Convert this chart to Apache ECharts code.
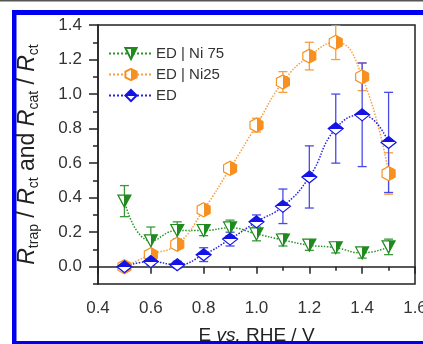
<!DOCTYPE html>
<html>
<head>
<meta charset="utf-8">
<script src="https://cdn.jsdelivr.net/npm/echarts@6/dist/echarts.min.js"></script>
<style>
html,body{margin:0;padding:0;background:#fff;}
#chart{width:423px;height:344px;}
</style>
</head>
<body>
<div id="chart"></div>
<script>
var potential = [0.5, 0.6, 0.7, 0.8, 0.9, 1.0, 1.1, 1.2, 1.3, 1.4, 1.5];
var ni75 = [0.38, 0.15, 0.21, 0.21, 0.225, 0.19, 0.155, 0.125, 0.11, 0.08, 0.115];
var ni75Err = [0.09, 0.08, 0.05, 0.03, 0.045, 0.04, 0.035, 0.03, 0.03, 0.03, 0.045];
var ni25 = [0.0, 0.07, 0.13, 0.33, 0.57, 0.82, 1.07, 1.22, 1.30, 1.10, 0.54];
var ni25Err = [0.02, 0.02, 0.02, 0.02, 0.03, 0.04, 0.06, 0.08, 0.10, 0.08, 0.12];
var ed = [0.0, 0.03, 0.012, 0.07, 0.16, 0.26, 0.35, 0.52, 0.80, 0.88, 0.72];
var edErr = [0.01, 0.02, 0.02, 0.04, 0.04, 0.04, 0.10, 0.18, 0.20, 0.30, 0.29];
var yMajor = [0, 0.2, 0.4, 0.6, 0.8, 1.0, 1.2, 1.4];

var FONT = '"Liberation Sans", Arial, sans-serif';
var GREEN = '#1f8a1f', ORANGE = '#f7901e', BLUE = '#1414e6';

function pairs(xs, ys) { return xs.map(function (x, i) { return [x, ys[i]]; }); }
function triples(xs, ys, es) { return xs.map(function (x, i) { return [x, ys[i], es[i]]; }); }

function halfFill(c, vertical) {
	// vertical: top half filled, else right half filled
	return vertical
		? new echarts.graphic.LinearGradient(0, 0, 0, 1, [{offset: 0, color: c}, {offset: 0.5, color: c}, {offset: 0.5, color: '#fff'}, {offset: 1, color: '#fff'}])
		: new echarts.graphic.LinearGradient(0, 0, 1, 0, [{offset: 0, color: '#fff'}, {offset: 0.5, color: '#fff'}, {offset: 0.5, color: c}, {offset: 1, color: c}]);
}

function lineSeries(name, data, color, lineColor, symbol, size, vertical) {
	return {
		name: name, type: 'line', data: data, smooth: 0.5, z: 3,
		symbol: symbol, symbolSize: size,
		lineStyle: {color: lineColor, width: 1.5, type: 'dotted'},
		itemStyle: {color: halfFill(color, vertical), borderColor: color, borderWidth: 1.2},
		emphasis: {disabled: true}
	};
}

function errSeries(data, color) {
	return {
		type: 'custom', data: data, z: 2, clip: true, silent: true,
		renderItem: function (params, api) {
			var x = api.value(0), y = api.value(1), e = api.value(2);
			var hi = api.coord([x, y + e]), lo = api.coord([x, y - e]);
			var w = 4.5;
			var st = {stroke: color, lineWidth: 1.3};
			return {type: 'group', children: [
				{type: 'line', shape: {x1: hi[0], y1: hi[1], x2: lo[0], y2: lo[1]}, style: st},
				{type: 'line', shape: {x1: hi[0] - w, y1: hi[1], x2: hi[0] + w, y2: hi[1]}, style: st},
				{type: 'line', shape: {x1: lo[0] - w, y1: lo[1], x2: lo[0] + w, y2: lo[1]}, style: st}
			]};
		}
	};
}

var chart = echarts.init(document.getElementById('chart'));
var option = {
	animation: false,
	backgroundColor: '#fff',
	textStyle: {fontFamily: FONT},
	// page frame round the figure
	graphic: [
		{type: 'rect', shape: {x: 0, y: 0, width: 423, height: 1.5}, style: {fill: '#555'}, silent: true},
		{type: 'rect', shape: {x: 12, y: 10, width: 411, height: 5}, style: {fill: '#0000f0'}, silent: true},
		{type: 'rect', shape: {x: 12, y: 10, width: 4.5, height: 334}, style: {fill: '#0000f0'}, silent: true},
		{type: 'rect', shape: {x: 12, y: 341, width: 411, height: 3}, style: {fill: '#0000f0'}, silent: true}
	],
	grid: {left: 98, right: 8, top: 25, bottom: 60, show: true, borderColor: '#222', borderWidth: 1.5, outerBoundsMode: 'none'},
	legend: {
		left: 103, top: 41, orient: 'vertical', itemWidth: 44, itemHeight: 14, itemGap: 6,
		data: ['ED | Ni 75', 'ED | Ni25', 'ED'],
		textStyle: {fontSize: 15, color: '#333', fontFamily: FONT, padding: [0, 0, 0, -2]},
		selectedMode: false
	},
	xAxis: {
		type: 'value', min: 0.4, max: 1.6, interval: 0.2,
		name: '{n|E }{i|vs.}{n| RHE / V}', nameLocation: 'middle', nameGap: 42,
		nameTextStyle: {rich: {n: {fontSize: 19, color: '#222', fontFamily: FONT}, i: {fontSize: 19, color: '#222', fontStyle: 'italic', fontFamily: FONT}}},
		axisLine: {lineStyle: {color: '#222', width: 1.5}},
		axisTick: {inside: false, length: 7, lineStyle: {color: '#222', width: 1.5}},
		minorTick: {show: true, splitNumber: 2, length: 4, lineStyle: {color: '#222', width: 1.5}},
		axisLabel: {fontSize: 17, color: '#333', margin: 16, formatter: function (v) { return v.toFixed(1); }},
		splitLine: {show: false}
	},
	yAxis: [{
		type: 'value', min: -0.1, max: 1.4, interval: 0.1, position: 'left',
		name: '{i|R}{s|trap}{n| / }{i|R}{s|ct}{n| and }{i|R}{s|cat}{n| / }{i|R}{s|ct}',
		nameLocation: 'middle', nameGap: 57, nameRotate: 90,
		nameTextStyle: {rich: {
			i: {fontSize: 23, fontStyle: 'italic', color: '#222', fontFamily: FONT, lineHeight: 26},
			n: {fontSize: 23, color: '#222', fontFamily: FONT, lineHeight: 26},
			s: {fontSize: 14, color: '#222', fontFamily: FONT, padding: [13, 0, 0, 0]}
		}},
		axisLine: {show: true, lineStyle: {color: '#222', width: 1.5}},
		axisTick: {inside: false, length: 5, lineStyle: {color: '#222', width: 1.5}},
		axisLabel: {fontSize: 17, color: '#333', margin: 16, formatter: function (v) {
			var k = Math.round(v * 10);
			return (k % 2 === 0 && k >= 0) ? (k / 10).toFixed(1) : '';
		}},
		splitLine: {show: false}
	}, {
		// longer ticks at the labelled values
		type: 'value', min: -0.1, max: 1.4, interval: 0.1, position: 'left', offset: 0,
		axisLine: {show: false},
		axisTick: {show: true, inside: false, length: 9, customValues: yMajor, lineStyle: {color: '#222', width: 1.5}},
		axisLabel: {show: false},
		splitLine: {show: false}
	}],
	series: [
		errSeries(triples(potential, ni75, ni75Err), '#3a9a3a'),
		errSeries(triples(potential, ni25, ni25Err), '#f5a040'),
		errSeries(triples(potential, ed, edErr), '#4a4ae8'),
		lineSeries('ED | Ni 75', pairs(potential, ni75), GREEN, '#2a962a', 'path://M0,0 L10,0 L5,9 Z', [13, 12], false),
		lineSeries('ED | Ni25', pairs(potential, ni25), ORANGE, '#f5a040', 'path://M0,-1 L0.87,-0.5 L0.87,0.5 L0,1 L-0.87,0.5 L-0.87,-0.5 Z', [13, 14], false),
		lineSeries('ED', pairs(potential, ed), BLUE, '#2424e0', 'diamond', [15, 12], true)
	]
};
chart.setOption(option);
</script>
</body>
</html>
